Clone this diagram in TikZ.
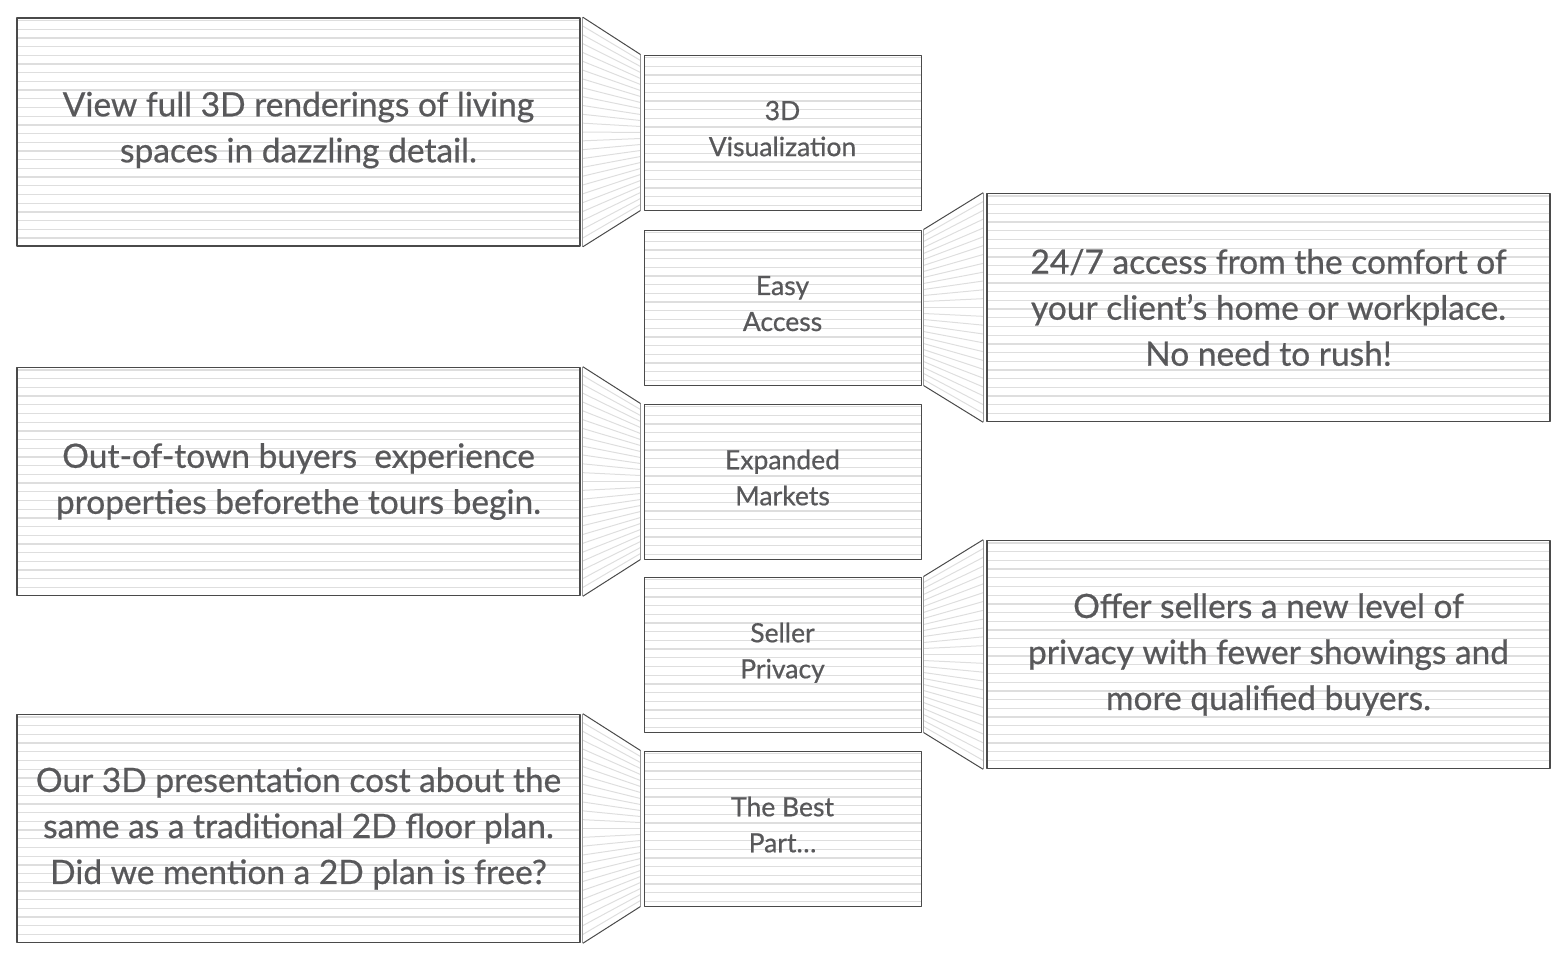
\documentclass[tikz,border=0pt]{standalone}
\usepackage{fontspec}
\setmainfont{Lato}
\newfontfamily\boxfont{Lato}[FakeBold=0.6]
\usetikzlibrary{calc}
\definecolor{txtgray}{HTML}{58585A}
\definecolor{stripe}{HTML}{DEDEDE}
\definecolor{edge}{HTML}{4A4A4A}
\tikzset{
  striped/.style={path picture={
      \foreach \k in {0,...,27}
        \draw[stripe,line width=1.3pt] ([yshift=-2.5pt-\k*8.7pt]path picture bounding box.north west)
          -- ([yshift=-2.5pt-\k*8.7pt]path picture bounding box.north east);}},
  bigbox/.style={striped,draw=edge,line width=1.6pt,minimum width=563pt,minimum height=228pt,
    align=center,text=txtgray,font=\boxfont\fontsize{33.5}{46}\selectfont},
  smallbox/.style={striped,draw=edge,line width=0.9pt,minimum width=277pt,minimum height=155pt,
    align=center,text=txtgray,font=\boxfont\fontsize{26.5}{36}\selectfont,text depth=8pt},
  fanline/.style={stripe,line width=1pt},
  fanside/.style={draw=black!40,line width=1.2pt},
  fanedge/.style={edge,line width=1pt}
}
\begin{document}
\begin{tikzpicture}[x=1pt,y=-1pt,line join=round]
\useasboundingbox (0,0) rectangle (1564,961);
% left column
\node[bigbox] (view) at (298.5,132) {View full 3D renderings of living\\spaces in dazzling detail.\vspace{4pt}};
\node[bigbox] (town) at (298.5,481.5) {Out-of-town buyers\ \ experience\\properties beforethe tours begin.};
\node[bigbox] (cost) at (298.5,828.5) {Our 3D presentation cost about the\\same as a traditional 2D floor plan.\\Did we mention a 2D plan is free?};
% middle column
\node[smallbox] (visual) at (782.5,132.5) {3D\\Visualization};
\node[smallbox] (access) at (782.5,307.5) {Easy\\Access};
\node[smallbox] (markets) at (782.5,481.5) {Expanded\\Markets};
\node[smallbox] (privacy) at (782.5,654.5) {Seller\\Privacy};
\node[smallbox] (best) at (782.5,828.5) {The Best\\Part…};
% right column
\node[bigbox] (comfort) at (1268.5,307.5) {24/7 access from the comfort of\\your client’s home or workplace.\\No need to rush!};
\node[bigbox] (offer) at (1268.5,654.5) {Offer sellers a new level of\\privacy with fewer showings and\\more qualified buyers.};
% fans between the columns
\foreach \a/\b in {view/visual,town/markets,cost/best,access/comfort,privacy/offer}{
  \coordinate (pa) at ([xshift=2pt]\a.north east);
  \coordinate (pb) at ([xshift=2pt]\a.south east);
  \coordinate (qa) at ([xshift=-3pt]\b.north west);
  \coordinate (qb) at ([xshift=-3pt]\b.south west);
  \foreach \t in {1,...,25}
    \draw[fanline] ($(pa)!\t/26!(pb)$) -- ($(qa)!\t/26!(qb)$);
  \draw[fanside] (pa) -- (pb) (qa) -- (qb);
  \draw[fanedge] (pa) -- (qa) (pb) -- (qb);
}
\end{tikzpicture}
\end{document}
